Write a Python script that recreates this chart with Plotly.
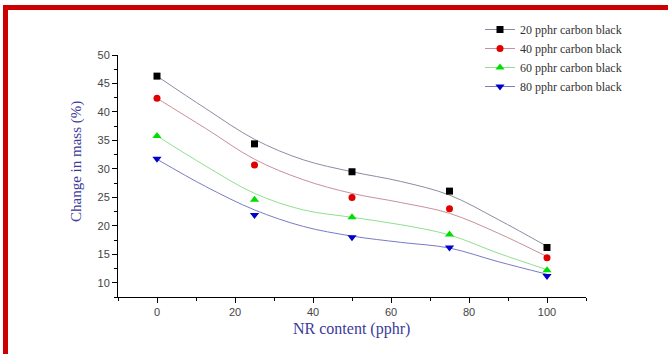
import plotly.graph_objects as go

# ---- data ----
nr_content = [0, 25, 50, 75, 100]
series_names = ["20 pphr carbon black", "40 pphr carbon black",
                "60 pphr carbon black", "80 pphr carbon black"]
mass_20 = [46.3, 34.4, 29.5, 26.1, 16.2]
mass_40 = [42.4, 30.7, 25.0, 23.0, 14.4]
mass_60 = [35.8, 24.6, 21.5, 18.5, 12.2]
mass_80 = [31.8, 21.9, 18.0, 16.2, 11.2]
# smooth fitted curves
fit_x = [0, 12.5, 25, 37.5, 50, 62.5, 75, 87.5, 100]
fit_20 = [46.3, 40.6, 35.2, 31.6, 29.5, 27.8, 25.4, 21.1, 16.4]
fit_40 = [42.4, 37.1, 31.7, 28.1, 25.7, 24.1, 22.2, 18.7, 14.6]
fit_60 = [35.8, 30.5, 25.7, 22.8, 21.5, 20.2, 18.4, 15.2, 12.3]
fit_80 = [31.7, 26.9, 22.8, 19.9, 18.2, 17.1, 16.1, 13.7, 11.5]

y_ticks = [10, 15, 20, 25, 30, 35, 40, 45, 50]
x_ticks = [0, 20, 40, 60, 80, 100]

values = [mass_20, mass_40, mass_60, mass_80]
fits = [fit_20, fit_40, fit_60, fit_80]
marker_colors = ["#000000", "#e00000", "#00dd00", "#0000cc"]
line_colors = ["#8c8ca4", "#c98f9c", "#8fe08f", "#7a7ac6"]
symbols = ["square", "circle", "triangle-up", "triangle-down"]
msizes = [7, 7, 8, 8]

W, H = 668, 354
ML, MR, MT, MB = 118, 82, 55, 57
PW, PH = W - ML - MR, H - MT - MB

def px(p):
    return (p - ML) / PW

def py(p):
    return (H - MB - p) / PH

fig = go.Figure()
for name, v, f, mc, lc, sym, ms in zip(series_names, values, fits, marker_colors,
                                       line_colors, symbols, msizes):
    fig.add_trace(go.Scatter(x=fit_x, y=f, mode="lines",
                             line=dict(color=lc, width=1, shape="spline", smoothing=1),
                             showlegend=False, hoverinfo="skip"))
    fig.add_trace(go.Scatter(x=nr_content, y=v, mode="markers",
                             marker=dict(symbol=sym, color=mc, size=ms),
                             showlegend=False, name=name))
    fig.add_trace(go.Scatter(x=[None], y=[None], mode="lines+markers", name=name,
                             line=dict(color=lc, width=1),
                             marker=dict(symbol=sym, color=mc, size=ms)))

serif = "Liberation Serif, Times New Roman, serif"
sans = "Liberation Sans, Arial, sans-serif"
title_color = "#3b3b9a"

fig.update_layout(
    width=W, height=H,
    margin=dict(l=ML, r=MR, t=MT, b=MB, pad=0),
    paper_bgcolor="white", plot_bgcolor="white",
    showlegend=True,
    legend=dict(x=px(480), y=py(15), xanchor="left", yanchor="top",
                font=dict(family=serif, size=12, color="#333333"),
                bgcolor="rgba(0,0,0,0)", tracegroupgap=0, itemwidth=30),
    xaxis=dict(range=[-10, 110], tickvals=x_ticks, showgrid=False, zeroline=False,
               showline=True, linecolor="#000000", linewidth=1,
               ticks="outside", ticklen=5, tickcolor="#000000",
               tickfont=dict(family=sans, size=11, color="#444444"),
               minor=dict(dtick=10, tick0=0, ticks="outside", ticklen=3,
                          tickcolor="#000000", showgrid=False)),
    yaxis=dict(range=[7.5, 50.01], tickvals=y_ticks, showgrid=False, zeroline=False,
               showline=True, linecolor="#000000", linewidth=1,
               ticks="outside", ticklen=5, tickcolor="#000000",
               tickfont=dict(family=sans, size=11, color="#444444"),
               minor=dict(dtick=2.5, tick0=0, ticks="outside", ticklen=3,
                          tickcolor="#000000", showgrid=False)),
    annotations=[
        dict(text="Change in mass (%)", xref="paper", yref="paper",
             x=px(76), y=py(162), textangle=-90, showarrow=False,
             xanchor="center", yanchor="middle",
             font=dict(family=serif, size=15, color=title_color)),
        dict(text="NR content (pphr)", xref="paper", yref="paper",
             x=px(351), y=py(329), showarrow=False,
             xanchor="center", yanchor="middle",
             font=dict(family=serif, size=16, color=title_color)),
    ],
    shapes=[
        dict(type="rect", xref="paper", yref="paper", x0=px(3), x1=px(8),
             y0=py(H + 10), y1=py(5), fillcolor="#cc0000", line=dict(width=0),
             layer="above"),
        dict(type="rect", xref="paper", yref="paper", x0=px(3), x1=px(W + 10),
             y0=py(10), y1=py(5), fillcolor="#cc0000", line=dict(width=0),
             layer="above"),
    ],
)

fig.write_html("out.html")
